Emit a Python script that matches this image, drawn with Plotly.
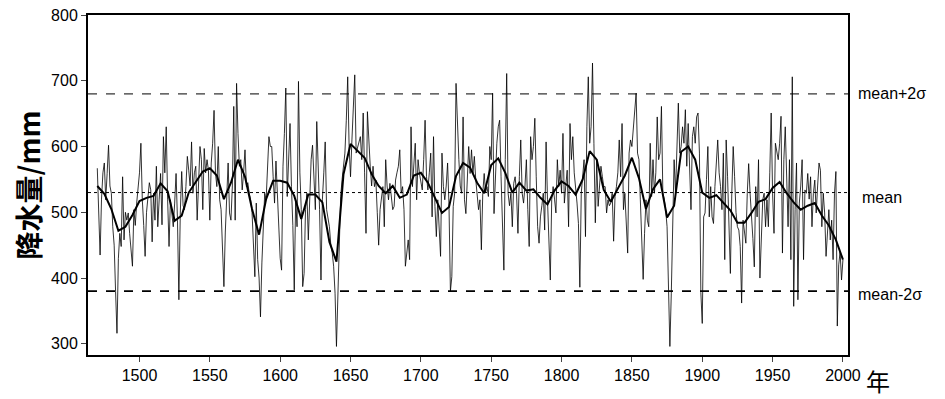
import plotly.graph_objects as go

# Annual precipitation (mm), 1470-2000, one row per decade
precip = [
    567, 500, 435, 520, 560, 575, 519, 559, 602, 540,   # 1470s
    529, 478, 450, 380, 316, 430, 468, 448, 554, 458,   # 1480s
    500, 488, 499, 468, 440, 418, 504, 480, 514, 540,   # 1490s
    560, 605, 519, 480, 433, 500, 529, 545, 534, 455,   # 1500s
    529, 488, 570, 478, 520, 559, 481, 615, 560, 630,   # 1510s
    519, 448, 519, 500, 478, 514, 559, 488, 367, 499,   # 1520s
    562, 510, 504, 539, 585, 564, 540, 607, 529, 560,   # 1530s
    570, 488, 560, 600, 580, 504, 597, 560, 580, 564,   # 1540s
    488, 575, 605, 655, 560, 539, 600, 519, 504, 450,   # 1550s
    387, 470, 519, 575, 499, 488, 540, 661, 488, 696,   # 1560s
    620, 570, 580, 534, 560, 595, 539, 545, 529, 519,   # 1570s
    500, 460, 402, 514, 428, 400, 341, 423, 480, 529,   # 1580s
    519, 560, 615, 600, 600, 554, 514, 578, 530, 478,   # 1590s
    430, 412, 570, 620, 689, 524, 580, 635, 539, 480,   # 1600s
    382, 519, 478, 699, 560, 504, 387, 407, 504, 529,   # 1610s
    458, 520, 580, 602, 554, 504, 638, 570, 504, 397,   # 1620s
    519, 560, 607, 504, 490, 478, 450, 438, 418, 377,   # 1630s
    296, 380, 448, 524, 550, 575, 590, 640, 706, 600,   # 1640s
    554, 610, 660, 709, 590, 600, 605, 615, 580, 651,   # 1650s
    560, 468, 653, 600, 570, 540, 570, 539, 549, 500,   # 1660s
    450, 504, 520, 539, 478, 580, 540, 519, 544, 520,   # 1670s
    504, 509, 549, 560, 570, 595, 529, 539, 504, 418,   # 1680s
    440, 458, 428, 630, 539, 580, 605, 519, 580, 559,   # 1690s
    545, 534, 580, 640, 554, 534, 560, 590, 493, 615,   # 1700s
    509, 463, 519, 480, 433, 590, 539, 519, 540, 575,   # 1710s
    509, 380, 402, 509, 529, 696, 620, 580, 540, 529,   # 1720s
    645, 519, 498, 560, 600, 559, 595, 559, 585, 550,   # 1730s
    529, 504, 519, 443, 529, 559, 530, 539, 524, 600,   # 1740s
    580, 681, 498, 560, 605, 630, 640, 554, 480, 412,   # 1750s
    580, 711, 529, 510, 529, 478, 544, 554, 529, 468,   # 1760s
    554, 610, 529, 514, 540, 580, 504, 448, 615, 580,   # 1770s
    600, 643, 554, 478, 453, 493, 510, 529, 473, 607,   # 1780s
    519, 470, 397, 519, 539, 520, 499, 580, 539, 564,   # 1790s
    529, 620, 514, 540, 564, 478, 635, 580, 615, 560,   # 1800s
    539, 514, 483, 386, 529, 560, 580, 463, 630, 706,   # 1810s
    605, 630, 727, 605, 484, 580, 509, 540, 570, 554,   # 1820s
    539, 539, 499, 519, 510, 514, 529, 456, 524, 539,   # 1830s
    560, 610, 554, 635, 504, 529, 480, 438, 590, 610,   # 1840s
    600, 630, 666, 681, 590, 580, 519, 453, 398, 468,   # 1850s
    519, 488, 478, 605, 524, 580, 529, 560, 645, 580,   # 1860s
    590, 661, 529, 520, 504, 478, 397, 296, 377, 478,   # 1870s
    580, 529, 605, 666, 590, 600, 630, 605, 656, 570,   # 1880s
    635, 560, 504, 615, 630, 605, 645, 651, 590, 378,   # 1890s
    331, 493, 499, 550, 600, 493, 539, 493, 483, 539,   # 1900s
    580, 610, 560, 539, 504, 590, 428, 610, 554, 480,   # 1910s
    407, 529, 600, 554, 500, 478, 473, 448, 362, 488,   # 1920s
    470, 453, 529, 574, 529, 499, 460, 417, 539, 493,   # 1930s
    580, 400, 480, 519, 529, 478, 519, 478, 560, 651,   # 1940s
    529, 468, 605, 595, 580, 605, 646, 438, 580, 630,   # 1950s
    530, 478, 580, 428, 706, 357, 504, 575, 367, 514,   # 1960s
    540, 580, 428, 534, 529, 559, 520, 554, 478, 529,   # 1970s
    549, 499, 540, 575, 564, 478, 529, 499, 433, 470,   # 1980s
    504, 458, 488, 428, 529, 562, 327, 420, 440, 397,   # 1990s
    428,                                                # 2000
]
years = list(range(1470, 1470 + len(precip)))

# Smoothed curve read every 5 years, 1470-2000
smooth_years = list(range(1470, 2001, 5))
smooth = [
    540, 528, 505, 472, 478, 496, 517, 522, 525, 544,
    532, 487, 495, 530, 546, 562, 567, 556, 520, 545,
    580, 554, 505, 466, 520, 548, 548, 545, 525, 490,
    527, 527, 515, 455, 425, 558, 604, 593, 583, 558,
    540, 529, 540, 522, 527, 556, 560, 545, 522, 499,
    508, 555, 575, 568, 545, 529, 572, 582, 560, 530,
    545, 533, 535, 522, 512, 533, 547, 540, 527, 550,
    593, 580, 534, 516, 536, 556, 583, 552, 505, 535,
    550, 492, 510, 592, 600, 580, 530, 522, 526, 514,
    503, 484, 484, 499, 516, 520, 537, 546, 529, 515,
    504, 510, 514, 495, 480, 458, 428,
]

mean_val = 530
upper_val = 680
lower_val = 380
ref_labels = ["mean+2σ", "mean", "mean-2σ"]

x_ticks = [1500, 1550, 1600, 1650, 1700, 1750, 1800, 1850, 1900, 1950, 2000]
y_ticks = [300, 400, 500, 600, 700, 800]

fig = go.Figure()
fig.add_trace(go.Scatter(x=years, y=precip, mode="lines",
                         line=dict(color="black", width=0.8), showlegend=False))
fig.add_trace(go.Scatter(x=smooth_years, y=smooth, mode="lines",
                         line=dict(color="black", width=2), showlegend=False))

x0, x1 = 1463.4, 2003.6
fig.add_trace(go.Scatter(x=[x0, x1], y=[upper_val, upper_val], mode="lines",
                         line=dict(color="black", width=1, dash="dash"), showlegend=False))
fig.add_trace(go.Scatter(x=[x0, x1], y=[mean_val, mean_val], mode="lines",
                         line=dict(color="black", width=1, dash="dot"), showlegend=False))
fig.add_trace(go.Scatter(x=[x0, x1], y=[lower_val, lower_val], mode="lines",
                         line=dict(color="black", width=1.8, dash="dash"), showlegend=False))

for lab, yv, dy, dx in zip(ref_labels, [upper_val, mean_val, lower_val], [0, -5, -3], [8, 12, 8]):
    fig.add_annotation(x=1, xref="paper", y=yv, yref="y", text=lab, showarrow=False,
                       xanchor="left", xshift=dx, yshift=dy,
                       font=dict(family="Arial, Liberation Sans", size=16, color="black"))

fig.add_annotation(x=1, xref="paper", y=0, yref="paper", text="年", showarrow=False,
                   xanchor="left", yanchor="middle", xshift=16, yshift=-25,
                   font=dict(family="Noto Sans CJK SC", size=24, color="black"))

# the page body has an 8px margin, so the figure is sized and offset to compensate
fig.update_layout(
    width=937, height=391,
    margin=dict(l=80, r=97, t=7, b=44, autoexpand=False),
    paper_bgcolor="white", plot_bgcolor="white",
    font=dict(family="Arial, Liberation Sans", size=16, color="black"),
    xaxis=dict(range=[x0, x1], tickvals=x_ticks, ticks="outside", ticklen=5,
               showgrid=False, zeroline=False, showline=True, linecolor="black",
               linewidth=2, mirror=True, tickfont=dict(size=16), automargin=False,
               ticklabeloverflow="allow"),
    yaxis=dict(range=[283, 800], tickvals=y_ticks, ticks="outside", ticklen=5,
               showgrid=False, zeroline=False, showline=True, linecolor="black",
               linewidth=2, mirror=True, tickfont=dict(size=16), automargin=False,
               ticklabeloverflow="allow",
               title=dict(text="<b>降水量/mm</b>", standoff=12,
                          font=dict(family="Noto Sans CJK SC", size=28))),
)

fig.write_html("out.html")
